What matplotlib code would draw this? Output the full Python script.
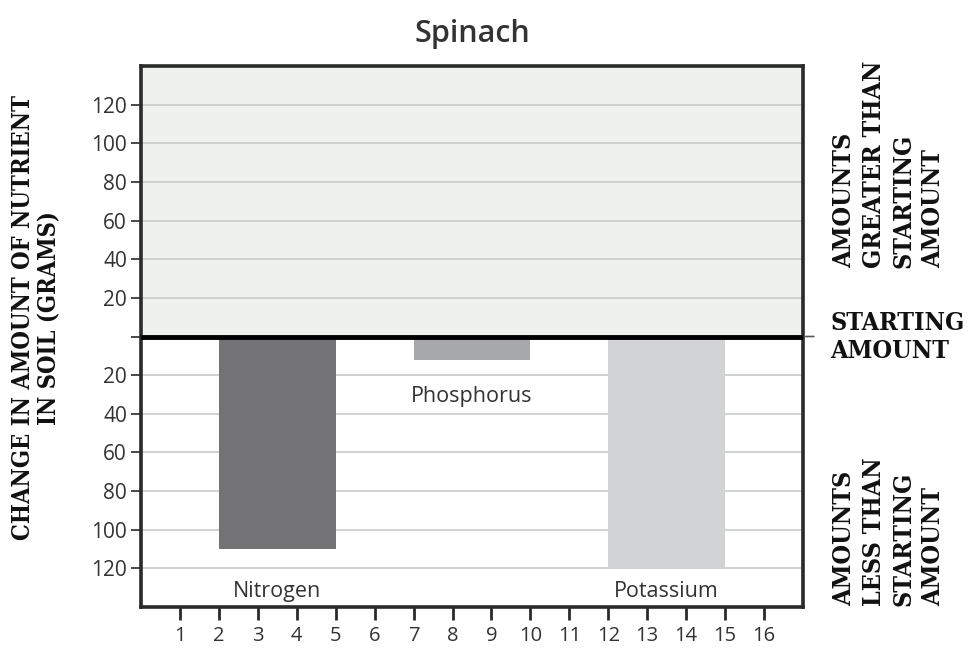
import matplotlib
matplotlib.use("Agg")
import matplotlib.pyplot as plt

# Data
nutrients = ["Nitrogen", "Phosphorus", "Potassium"]
bar_starts = [2, 7, 12]
bar_ends = [5, 10, 15]
changes = [-110, -12, -120]
bar_colors = ["#737375", "#a7a8aa", "#d2d3d5"]
label_y = [-132, -31, -132]
x_ticks = list(range(1, 17))
y_ticks = [-120, -100, -80, -60, -40, -20, 0, 20, 40, 60, 80, 100, 120]
y_tick_labels = ["120", "100", "80", "60", "40", "20", "", "20", "40", "60", "80", "100", "120"]

sans = "Open Sans"
slab_fp = dict(family="DejaVu Serif", weight="bold", stretch="condensed")

fig = plt.figure(figsize=(9.72, 6.56), dpi=100)
ax = fig.add_axes([141/972, 1-607/656, (803-141)/972, (607-66)/656])
ax.set_xlim(0, 17)
ax.set_ylim(-140, 140)

ax.axhspan(0, 140, color="#eff1ef", zorder=0)
for t in y_ticks:
    if t != 0:
        ax.axhline(t, color="#c8c9c9", lw=1.2, zorder=1)

for s, e, v, c in zip(bar_starts, bar_ends, changes, bar_colors):
    ax.bar(s, v, width=e - s, align="edge", color=c, zorder=2)

for s, e, ly, name in zip(bar_starts, bar_ends, label_y, nutrients):
    ax.text((s + e) / 2, ly, name, ha="center", va="center", fontsize=15.5,
            family=sans, color="#333333", zorder=3)

ax.axhline(0, color="black", lw=3.5, zorder=4)

for sp in ax.spines.values():
    sp.set_linewidth(2.6)
    sp.set_color("#2a2a2a")

ax.set_xticks(x_ticks)
ax.set_xticklabels([str(x) for x in x_ticks], family=sans, fontsize=14.5, color="#333333")
ax.set_yticks(y_ticks)
ax.set_yticklabels(y_tick_labels, family=sans, fontsize=15, color="#333333")
ax.tick_params(axis="x", length=9, width=2, color="#2a2a2a", pad=5)
ax.tick_params(axis="y", length=7, width=1.2, color="#2a2a2a", pad=3)

ax.set_title("Spinach", family=sans, fontsize=22, weight="semibold", color="#333333", pad=17)

ax.annotate("", xy=(17, 0), xytext=(17.35, 0), xycoords="data",
            arrowprops=dict(arrowstyle="-", color="#555555", lw=1.2),
            annotation_clip=False)

fig.text(36/972, 1-318/656, "CHANGE IN AMOUNT OF NUTRIENT\nIN SOIL (GRAMS)",
         rotation=90, ha="center", va="center", fontsize=17, linespacing=1.15,
         color="#111111", **slab_fp)

fig.text(830/972, 1-337/656, "STARTING\nAMOUNT", ha="left", va="center",
         fontsize=18, linespacing=1.25, color="#111111", **slab_fp)

fig.text(889/972, 1-268/656, "AMOUNTS\nGREATER THAN\nSTARTING\nAMOUNT",
         rotation=90, ha="center", va="bottom", multialignment="left",
         fontsize=18, linespacing=1.3, color="#111111", **slab_fp)

fig.text(889/972, 1-606/656, "AMOUNTS\nLESS THAN\nSTARTING\nAMOUNT",
         rotation=90, ha="center", va="bottom", multialignment="left",
         fontsize=18, linespacing=1.3, color="#111111", **slab_fp)

fig.savefig("out.png", dpi=100)
